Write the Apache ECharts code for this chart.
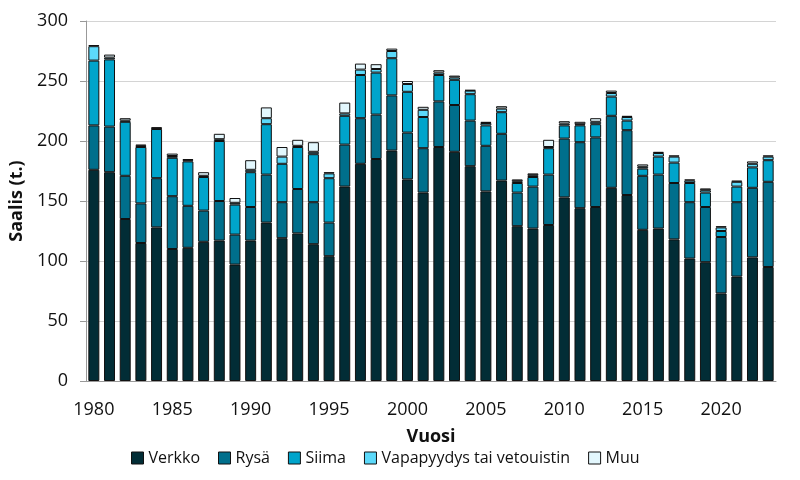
<!DOCTYPE html>
<html>
<head>
<meta charset="utf-8">
<script src="https://cdn.jsdelivr.net/npm/echarts@6/dist/echarts.min.js"></script>
<style>
  html, body { margin: 0; padding: 0; background: #fff; }
  #main { width: 800px; height: 480px; }
</style>
</head>
<body>
<div id="main"></div>
<script>
// vuodet 1980-2023
var years = [];
for (var y = 1980; y <= 2023; y++) years.push(String(y));

var verkko = [176,174,135,115,128,110,111,116,117,97,117,
              132,119,123,114,104,162,181,185,192,168,157,
              195,191,179,158,167,129,127,130,153,144,145,
              161,155,126,127,118,102,99,73,87,103,95];
var rysa   = [37,38,36,33,41,44,35,26,33,25,28,
              40,30,37,35,28,35,38,37,46,39,37,
              38,39,38,38,39,28,35,42,49,55,58,
              60,54,45,45,47,47,46,47,62,58,71];
var siima  = [54,56,45,47,41,32,37,28,50,25,29,
              42,32,35,40,37,24,36,35,31,34,26,
              22,21,22,17,18,8,8,22,11,14,11,
              16,8,6,15,17,16,12,5,13,17,18];
var vapa   = [12,1.5,1,1,0.5,1.5,1,1,1.5,1.5,2,
              5,6,1,2,4,2,4.5,3,6,6.5,6,
              2,2,3,2,3,1.5,1.5,1,1.5,1,2,
              3,3,1.5,3,5,2,2,3,4,3,3];
var muu    = [1,2.5,2,1,1,2,1,3,4.5,4,8,
              9,8,5,8,1,9,5,4,2,2.5,2.5,
              2,1.5,0.5,1,2,1.5,1.5,6,2,2,3,
              2,1,2,1,1,1,1.5,1,1,2,1];

var names  = ['Verkko', 'Rysä', 'Siima', 'Vapapyydys tai vetouistin', 'Muu'];
var colors = ['#022d36', '#006f8c', '#00a4cb', '#5cd9fa', '#e3f7fd'];
var values = [verkko, rysa, siima, vapa, muu];

var myChart = echarts.init(document.getElementById('main'));

var series = [];
for (var i = 0; i < names.length; i++) {
    series.push({
        name: names[i],
        type: 'bar',
        stack: 'saalis',
        data: values[i],
        barCategoryGap: '30%',
        itemStyle: {
            color: colors[i],
            borderColor: '#111',
            borderWidth: 1
        }
    });
}

var font = 'Open Sans';

var option = {
    animation: false,
    textStyle: { fontFamily: font },
    grid: { left: 86, right: 24, top: 21, bottom: 99 },
    legend: {
        bottom: 9,
        left: 126,
        itemWidth: 12,
        itemHeight: 12,
        itemGap: 18,
        icon: 'rect',
        textStyle: { fontSize: 16, color: '#111', fontFamily: font },
        itemStyle: { borderColor: '#111', borderWidth: 1 },
        data: names
    },
    xAxis: {
        type: 'category',
        data: years,
        name: 'Vuosi',
        nameLocation: 'middle',
        nameGap: 47,
        nameTextStyle: { fontSize: 18, fontWeight: 'bold', color: '#111' },
        axisLine: { lineStyle: { color: '#999' } },
        axisTick: { interval: 0, length: 6, lineStyle: { color: '#999' } },
        axisLabel: { interval: 4, fontSize: 18, color: '#111', margin: 20 }
    },
    yAxis: {
        type: 'value',
        min: 0,
        max: 300,
        interval: 50,
        name: 'Saalis (t.)',
        nameLocation: 'middle',
        nameGap: 58,
        nameTextStyle: { fontSize: 18, fontWeight: 'bold', color: '#111' },
        axisLine: { show: true, lineStyle: { color: '#999' } },
        axisTick: { show: true, length: 6, lineStyle: { color: '#999' } },
        axisLabel: { fontSize: 18, color: '#111', margin: 18 },
        splitLine: { lineStyle: { color: '#d4d4d4' } }
    },
    series: series
};

myChart.setOption(option);
</script>
</body>
</html>
